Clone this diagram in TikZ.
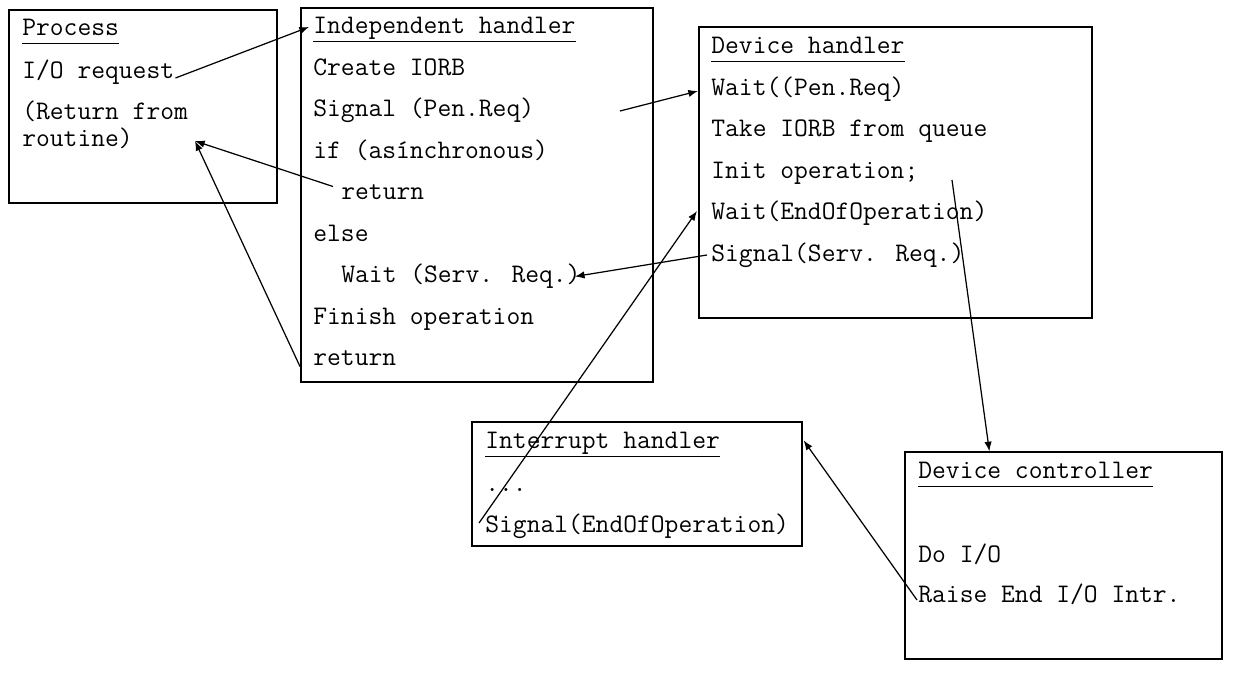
\documentclass[tikz,border=0pt]{standalone}
\usepackage{fontspec}
\usepackage{tikz}
\usetikzlibrary{arrows.meta,positioning,fit,calc}
\tikzstyle{box} = [rectangle, draw, line width=0.7pt, inner sep=0pt]
\tikzstyle{txt} = [anchor=base west, inner sep=0pt, font=\fontsize{15.25}{17}\selectfont\ttfamily]
\tikzstyle{line} = [draw, -{Latex[length=5.5pt,width=4.2pt]}, line width=0.7pt]
\newcommand{\hdr}[1]{\underline{\vphantom{p}#1}}

\begin{document}
\begin{tikzpicture}[x=0.02cm, y=-0.02cm]
    \useasboundingbox (0,0) rectangle (1237,673);
    % Place boxes
    \node [box, fit={(9,10) (277,203)}] (proc) {};
    \node [box, fit={(301,8) (653,382)}] (ind) {};
    \node [box, fit={(699,27) (1092,318)}] (dh) {};
    \node [box, fit={(472,422) (802,546)}] (ih) {};
    \node [box, fit={(905,452) (1222,659)}] (dc) {};

    % Process
    \node [txt] (procT) at (22,35) {\hdr{Process}};
    \node [txt] (procIO) at (22,78) {I/O request};
    \node [txt] (procR1) at (22,119) {(Return from};
    \node [txt] (procR2) at (22,146) {routine)};

    % Independent handler
    \node [txt] (indT) at (313,33) {\hdr{Independent handler}};
    \node [txt] (ind1) at (313,75) {Create IORB};
    \node [txt] (ind2) at (313,116.5) {Signal (Pen.Req)};
    \node [txt] (ind3) at (313,158) {if (as\'{\i}nchronous)};
    \node [txt] (ind4) at (341,199.5) {return};
    \node [txt] (ind5) at (313,241) {else};
    \node [txt] (ind6) at (341,282.5) {Wait (Serv. Req.)};
    \node [txt] (ind7) at (313,324) {Finish operation};
    \node [txt] (ind8) at (313,365.5) {return};

    % Device handler
    \node [txt] (dhT) at (711,53) {\hdr{Device handler}};
    \node [txt] (dh1) at (711,95) {Wait((Pen.Req)};
    \node [txt] (dh2) at (711,136) {Take IORB from queue};
    \node [txt] (dh3) at (711,178) {Init operation;};
    \node [txt] (dh4) at (711,219) {Wait(EndOfOperation)};
    \node [txt] (dh5) at (711,261) {Signal(Serv. Req.)};

    % Interrupt handler
    \node [txt] (ihT) at (485,448) {\hdr{Interrupt handler}};
    \node [txt] (ih1) at (485,491) {...};
    \node [txt] (ih2) at (485,532) {Signal(EndOfOperation)};

    % Device controller
    \node [txt] (dcT) at (918,478) {\hdr{Device controller}};
    \node [txt] (dc1) at (918,562) {Do I/O};
    \node [txt] (dc2) at (918,602) {Raise End I/O Intr.};

    % Free ends
    \coordinate (retin) at (195,141);
    \coordinate (penout) at (620,111);
    \coordinate (initout) at (952,180);

    \draw [line] ($(procIO.base east)+(1,0)$) -- ($(indT.base west)+(-4,-6)$);
    \draw [line] (penout) -- ($(dh1.base west)+(-13,-4)$);
    \draw [line] ($(ind4.base west)+(-8,-13)$) -- (retin);
    \draw [line] ($(ind8.base west)+(-13,1)$) -- (retin);
    \draw [line] ($(dh5.base west)+(-4,-6)$) -- ($(ind6.base east)+(-6,-6)$);
    \draw [line] ($(ih2.base west)+(-6,-9)$) -- ($(dh4.base west)+(-14,-8)$);
    \draw [line] (initout) -- ($(dc.north west)+(85,0)$);
    \draw [line] ($(dc2.base west)+(-1,-2)$) -- ($(ih.north east)+(1,19)$);
\end{tikzpicture}
\end{document}
